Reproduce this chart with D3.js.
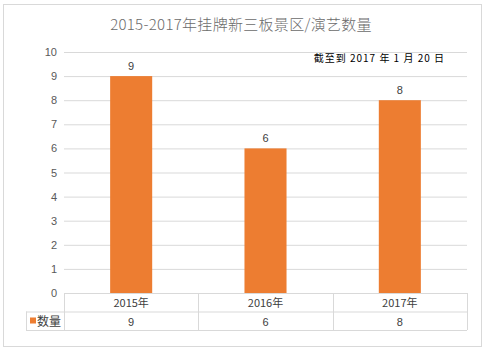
<!DOCTYPE html>
<html lang="zh">
<head>
  <meta charset="UTF-8">
  <title>d3</title>
  <script src="https://d3js.org/d3.v7.min.js"></script>
  <style>
    body { margin: 0; background: #fff; }
    text { font-family: "Noto Sans CJK SC", "DejaVu Sans", sans-serif; }
  </style>
</head>
<body>
  <div class="canvas"></div>
  <script>
    const years = ['2015年', '2016年', '2017年'];
    const counts = [9, 6, 8];
    const yTicks = [0, 1, 2, 3, 4, 5, 6, 7, 8, 9, 10];
    const seriesName = '数量';
    const title = '2015-2017年挂牌新三板景区/演艺数量';
    const note = '截至到 2017 年 1 月 20 日';

    const width = 491, height = 351;
    const [ml, mr, mt] = [64, 24, 52];
    const plotBottom = 293;

    const svg = d3.select('.canvas').append('svg')
      .attr('width', width).attr('height', height);

    // 바깥 테두리
    svg.append('rect')
      .attr('x', 3.5).attr('y', 4.5).attr('width', 478).attr('height', 342)
      .attr('fill', '#fff').attr('stroke', '#d9d9d9');

    svg.append('text')
      .attr('x', 241).attr('y', 30)
      .attr('text-anchor', 'middle')
      .attr('font-size', 15).attr('font-weight', 300).attr('fill', '#6b6b6b')
      .attr('letter-spacing', 0.3)
      .text(title);

    const x = d3.scaleBand()
      .domain(years)
      .range([ml, width - mr])
      .paddingInner(0.687)
      .paddingOuter(0.3435);

    const y = d3.scaleLinear()
      .domain([0, 10])
      .range([plotBottom, mt]);

    // 그리드
    const yAxis = d3.axisLeft(y).tickValues(yTicks).tickSize(-(width - mr - ml)).tickPadding(7);
    const yAxisG = svg.append('g')
      .attr('transform', `translate(${ml}, 0)`)
      .call(yAxis);
    yAxisG.select('.domain').remove();
    yAxisG.selectAll('line').attr('stroke', '#d9d9d9');
    yAxisG.selectAll('text').attr('font-size', 11).attr('fill', '#595959')
      .style('font-family', '"Liberation Sans", sans-serif');

    svg.append('text')
      .attr('x', 445).attr('y', 62)
      .attr('text-anchor', 'end')
      .attr('font-size', 10).attr('fill', '#000')
      .attr('letter-spacing', 1)
      .text(note);

    // 막대
    svg.selectAll('rect.bar').data(counts).enter()
      .append('rect').attr('class', 'bar')
      .attr('x', (d, i) => x(years[i]))
      .attr('y', d => y(d))
      .attr('width', x.bandwidth())
      .attr('height', d => plotBottom - y(d))
      .attr('fill', '#ed7d31');

    svg.selectAll('text.val').data(counts).enter()
      .append('text').attr('class', 'val')
      .attr('x', (d, i) => x(years[i]) + x.bandwidth() / 2)
      .attr('y', d => y(d) - 6)
      .attr('text-anchor', 'middle')
      .attr('font-size', 11).attr('fill', '#404040')
      .style('font-family', '"Liberation Sans", sans-serif')
      .text(d => d);

    // 데이터 테이블
    const rowH = 18.5;
    const tableTop = plotBottom;
    const legendLeft = 26;
    const tbl = svg.append('g').attr('stroke', '#d9d9d9').attr('fill', 'none');
    tbl.append('line').attr('x1', ml).attr('x2', width - mr).attr('y1', tableTop + 0.5).attr('y2', tableTop + 0.5);
    tbl.append('line').attr('x1', legendLeft).attr('x2', width - mr).attr('y1', tableTop + rowH + 0.5).attr('y2', tableTop + rowH + 0.5);
    tbl.append('line').attr('x1', legendLeft).attr('x2', width - mr).attr('y1', tableTop + 2 * rowH + 0.5).attr('y2', tableTop + 2 * rowH + 0.5);
    tbl.append('line').attr('x1', legendLeft + 0.5).attr('x2', legendLeft + 0.5).attr('y1', tableTop + rowH).attr('y2', tableTop + 2 * rowH);
    const colEdges = [0, 1, 2, 3].map(i => ml + (width - mr - ml) * i / 3);
    colEdges.forEach(cx => {
      tbl.append('line').attr('x1', Math.round(cx) + 0.5).attr('x2', Math.round(cx) + 0.5)
        .attr('y1', tableTop).attr('y2', tableTop + 2 * rowH);
    });

    svg.selectAll('text.year').data(years).enter()
      .append('text').attr('class', 'year')
      .attr('x', d => x(d) + x.bandwidth() / 2)
      .attr('y', tableTop + 14)
      .attr('text-anchor', 'middle')
      .attr('font-size', 11).attr('fill', '#404040')
      .text(d => d);

    svg.selectAll('text.cnt').data(counts).enter()
      .append('text').attr('class', 'cnt')
      .attr('x', (d, i) => x(years[i]) + x.bandwidth() / 2)
      .attr('y', tableTop + rowH + 14)
      .attr('text-anchor', 'middle')
      .attr('font-size', 11).attr('fill', '#404040')
      .style('font-family', '"Liberation Sans", sans-serif')
      .text(d => d);

    svg.append('rect')
      .attr('x', 30).attr('y', tableTop + rowH + 6)
      .attr('width', 6).attr('height', 6)
      .attr('fill', '#ed7d31');
    svg.append('text')
      .attr('x', 37).attr('y', tableTop + rowH + 14)
      .attr('font-size', 12).attr('fill', '#404040')
      .text(seriesName);
  </script>
</body>
</html>
